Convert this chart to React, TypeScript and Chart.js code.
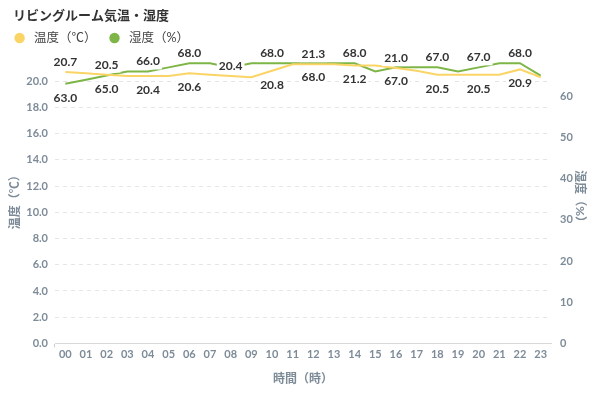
import React, { useEffect, useRef } from "react";
import { Chart, registerables } from "chart.js";

Chart.register(...registerables);

const hours = ["00","01","02","03","04","05","06","07","08","09","10","11","12","13","14","15","16","17","18","19","20","21","22","23"];
const temperature = [20.7,20.6,20.5,20.4,20.4,20.4,20.6,20.5,20.4,20.3,20.8,21.3,21.3,21.3,21.2,21.2,21.0,20.8,20.5,20.5,20.5,20.5,20.9,20.3];
const humidity = [63,64,65,66,66,67,68,68,67,68,68,68,68,68,68,66,67,67,67,66,67,68,68,65];
// which series' value label sits on top at each even hour (true = temperature on top)
const tempLabelOnTop = [true,true,false,false,true,false,true,false,true,false,false,false];

const TITLE = "リビングルーム気温・湿度";
const TEMP_LABEL = "温度（℃）";
const HUM_LABEL = "湿度（%）";
const X_TITLE = "時間（時）";

const FONT = "Lato, 'Noto Sans CJK JP', sans-serif";
const YELLOW = "#FBD466";
const GREEN = "#7DB646";
const TICK = "#7D8B98";

const decorPlugin = {
  id: "decor",
  afterDatasetsDraw(chart: any) {
    const ctx = chart.ctx;
    const m0 = chart.getDatasetMeta(0);
    const m1 = chart.getDatasetMeta(1);
    ctx.save();
    ctx.font = `bold 12px ${FONT}`;
    ctx.textAlign = "center";
    ctx.textBaseline = "middle";
    const placed: any[] = [];
    const items: any[] = [];
    for (let i = 0, k = 0; i < hours.length; i += 2, k++) {
      const tTop = tempLabelOnTop[k];
      const p0 = m0.data[i];
      const p1 = m1.data[i];
      items.push({ x: p0.x, cy: tTop ? p0.y - 10 : p0.y + 14, text: temperature[i].toFixed(1) });
      items.push({ x: p1.x, cy: tTop ? p1.y + 14 : p1.y - 10, text: humidity[i].toFixed(1) });
    }
    for (const it of items) {
      const w = ctx.measureText(it.text).width + 4;
      const box = { l: it.x - w / 2, r: it.x + w / 2, t: it.cy - 8, b: it.cy + 8 };
      const hit = placed.some((p) => box.l < p.r && box.r > p.l && box.t < p.b + 2 && box.b + 2 > p.t);
      if (hit) continue;
      placed.push({ ...box, text: it.text, x: it.x, cy: it.cy });
    }
    ctx.fillStyle = "#ffffff";
    for (const p of placed) ctx.fillRect(p.l, p.t, p.r - p.l, p.b - p.t);
    ctx.fillStyle = "#333333";
    for (const p of placed) ctx.fillText(p.text, p.x, p.cy);
    ctx.restore();
  },
  afterDraw(chart: any) {
    const ctx = chart.ctx;
    ctx.save();
    ctx.font = `bold 13px ${FONT}`;
    ctx.fillStyle = "#333333";
    ctx.textAlign = "left";
    ctx.textBaseline = "middle";
    ctx.fillText(TITLE, 5, 8);
    ctx.font = `12.5px ${FONT}`;
    const cy = 30;
    let x = 11.6;
    const entries = [
      { color: YELLOW, text: TEMP_LABEL },
      { color: GREEN, text: HUM_LABEL },
    ];
    for (const e of entries) {
      ctx.fillStyle = e.color;
      ctx.beginPath();
      ctx.arc(x, cy, 5.2, 0, Math.PI * 2);
      ctx.fill();
      ctx.fillStyle = "#444444";
      ctx.fillText(e.text, x + 14.4, cy);
      x = x + 14.4 + ctx.measureText(e.text).width + 18;
    }
    ctx.restore();
  },
};

export default function App() {
  const ref = useRef<HTMLCanvasElement | null>(null);
  useEffect(() => {
    if (!ref.current) return;
    const chart = new Chart(ref.current, {
      type: "line",
      data: {
        labels: hours,
        datasets: [
          {
            label: TEMP_LABEL,
            data: temperature,
            borderColor: YELLOW,
            backgroundColor: YELLOW,
            borderWidth: 2,
            pointRadius: 0,
            tension: 0,
            yAxisID: "y",
          },
          {
            label: HUM_LABEL,
            data: humidity,
            borderColor: GREEN,
            backgroundColor: GREEN,
            borderWidth: 2,
            pointRadius: 0,
            tension: 0,
            yAxisID: "y1",
          },
        ],
      },
      options: {
        animation: false,
        responsive: true,
        maintainAspectRatio: false,
        layout: { padding: { left: 0, right: 4, top: 47, bottom: 7 } },
        plugins: {
          title: { display: false },
          legend: { display: false },
          tooltip: { enabled: false },
        },
        scales: {
          x: {
            offset: true,
            grid: {
              display: true,
              drawOnChartArea: false,
              offset: true,
              tickLength: 4,
              color: (c: any) => (c.index === 0 || c.index === hours.length ? "#cccccc" : "rgba(0,0,0,0)"),
            },
            border: { display: true, color: "#d8d8d8" },
            ticks: {
              color: TICK,
              font: { family: FONT, size: 11, weight: "bold" },
              padding: 0,
              maxRotation: 0,
              autoSkip: false,
            },
            title: {
              display: true,
              text: X_TITLE,
              color: TICK,
              font: { family: FONT, size: 12, weight: "bold" },
              padding: { top: 11, bottom: 0 },
            },
          },
          y: {
            position: "left",
            min: 0,
            max: 22,
            afterFit: (s: any) => { s.width = 47; },
            grid: {
              color: (c: any) => (c.tick && c.tick.value >= 22 ? "rgba(0,0,0,0)" : "#e4e4e4"),
              drawTicks: false,
            },
            border: { display: false, dash: [4, 4] },
            ticks: {
              stepSize: 2,
              color: TICK,
              padding: 7,
              font: { family: FONT, size: 11, weight: "bold" },
              callback: (v: any) => (Number(v) >= 22 ? "" : Number(v).toFixed(1)),
            },
            title: {
              display: true,
              text: TEMP_LABEL,
              color: TICK,
              font: { family: FONT, size: 12, weight: "bold" },
              padding: { top: 0, bottom: 2 },
            },
          },
          y1: {
            position: "right",
            min: 0,
            max: 70,
            afterFit: (s: any) => { s.width = 36; },
            grid: { drawOnChartArea: false, drawTicks: false },
            border: { display: false },
            ticks: {
              stepSize: 10,
              color: TICK,
              padding: 9,
              font: { family: FONT, size: 11, weight: "bold" },
              callback: (v: any) => (Number(v) >= 70 ? "" : String(v)),
            },
            title: {
              display: true,
              text: HUM_LABEL,
              color: TICK,
              font: { family: FONT, size: 12, weight: "bold" },
              padding: { top: 0, bottom: 0 },
            },
          },
        },
      },
      plugins: [decorPlugin],
    });
    return () => chart.destroy();
  }, []);
  return (
    <div style={{ width: 583, height: 385, position: "relative" }}>
      <canvas ref={ref} />
    </div>
  );
}
